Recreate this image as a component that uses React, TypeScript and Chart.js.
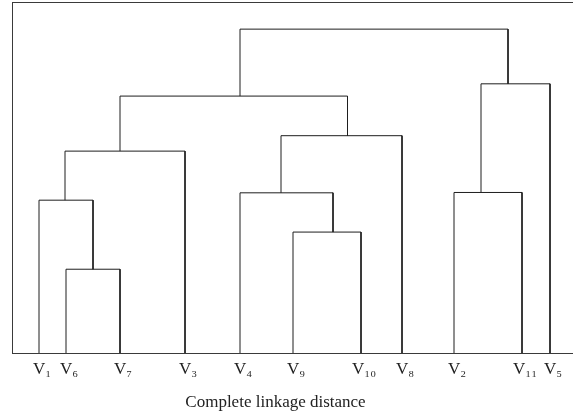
import React, { useEffect, useRef } from 'react';
import { Chart, registerables } from 'chart.js';

Chart.register(...registerables);

// Leaves in dendrogram order
const leafLabels = ['V₁', 'V₆', 'V₇', 'V₃', 'V₄', 'V₉', 'V₁₀', 'V₈', 'V₂', 'V₁₁', 'V₅'];
const leafPositions = [27, 54, 108, 173, 228, 281, 349, 390, 442, 510, 538];

// Merges: node ids 0-10 are leaves, 11+ are merges (in order)
const mergeLeft = [1, 0, 12, 5, 4, 15, 13, 8, 18, 17];
const mergeRight = [2, 11, 3, 6, 14, 7, 16, 9, 10, 19];
const mergeHeights = [2.39, 4.36, 5.76, 3.45, 4.57, 6.2, 7.33, 4.58, 7.68, 9.24];
const mergeStems = [81, 53, 108, 321, 269, 335.5, 228, 469, 496, 362];

const xTitle = 'Complete linkage distance';
const xMax = 561;
const yMax = 10;

const FONT = '"Liberation Serif", "Times New Roman", serif';
const LINE = '#1e1e1e';
const FRAME = '#3a3a3a';

function nodeX(id: number) {
  return id < leafPositions.length ? leafPositions[id] : mergeStems[id - leafPositions.length];
}
function nodeY(id: number) {
  return id < leafPositions.length ? 0 : mergeHeights[id - leafPositions.length];
}

export default function App() {
  const ref = useRef<HTMLCanvasElement | null>(null);

  useEffect(() => {
    document.body.style.margin = '0';
    const canvas = ref.current;
    if (!canvas) return;

    const datasets = mergeHeights.map((h, i) => {
      const l = mergeLeft[i];
      const r = mergeRight[i];
      return {
        data: [
          { x: nodeX(l), y: nodeY(l) },
          { x: nodeX(l), y: h },
          { x: nodeX(r), y: h },
          { x: nodeX(r), y: nodeY(r) },
        ],
        showLine: true,
        borderColor: LINE,
        borderWidth: 1,
        pointRadius: 0,
        tension: 0,
        fill: false,
      };
    });

    const chart = new Chart(canvas, {
      type: 'scatter',
      data: { datasets },
      options: {
        responsive: false,
        animation: false,
        layout: { padding: { left: 12, top: 2.5, right: 0, bottom: 0 } },
        plugins: { legend: { display: false }, tooltip: { enabled: false } },
        scales: {
          x: {
            type: 'linear',
            position: 'bottom',
            min: 0,
            max: xMax,
            afterFit: (s: any) => { s.height = 60; },
            afterBuildTicks: (s: any) => { s.ticks = leafPositions.map((v) => ({ value: v })); },
            grid: { display: false, drawTicks: false },
            border: { display: true, color: FRAME, width: 1 },
            ticks: {
              autoSkip: false,
              maxRotation: 0,
              padding: 6,
              labelOffset: 3,
              color: '#222',
              font: { family: FONT, size: 17 },
              callback: (_v: any, i: number) => leafLabels[i],
            },
            title: {
              display: true,
              text: xTitle + '\u2003\u2003',
              color: '#222',
              font: { family: FONT, size: 17 },
              padding: { top: 0, bottom: 0 },
            },
          },
          xTop: {
            type: 'linear',
            position: 'top',
            min: 0,
            max: xMax,
            afterFit: (s: any) => { s.height = 0; },
            grid: { display: false, drawTicks: false },
            border: { display: true, color: FRAME, width: 1 },
            ticks: { display: false },
          },
          y: {
            type: 'linear',
            min: 0,
            max: yMax,
            afterFit: (s: any) => { s.width = 0; },
            grid: { display: false, drawTicks: false },
            border: { display: true, color: FRAME, width: 1 },
            ticks: { display: false },
          },
        },
      } as any,
    });

    return () => chart.destroy();
  }, []);

  return (
    <div style={{ width: 573, height: 413, background: '#fff' }}>
      <canvas ref={ref} width={573} height={413} />
    </div>
  );
}
